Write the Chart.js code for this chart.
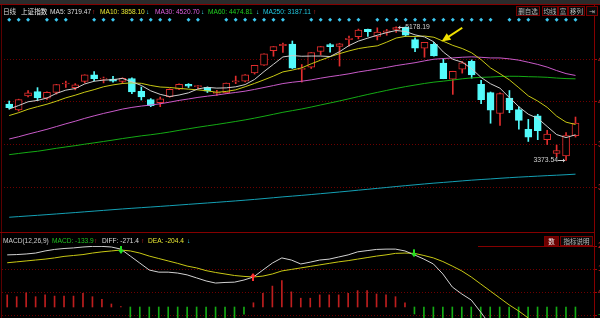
<!DOCTYPE html>
<html>
<head>
<meta charset="utf-8">
<script src="https://cdn.jsdelivr.net/npm/chart.js@4.4.1/dist/chart.umd.min.js"></script>
<style>
body { margin: 0; background: #000; }
#wrap { position: relative; width: 600px; height: 318px; overflow: hidden; background: #000; }
canvas { position: absolute; left: 0; }
.t { position: absolute; white-space: nowrap; font-family: "Liberation Sans", "Noto Sans CJK SC", sans-serif; font-size: 6.6px; line-height: 9px; }
.cjk { font-family: "Noto Sans CJK SC", sans-serif; }
.btn { position: absolute; top: 6px; height: 10px; border: 1px solid #7a0000; box-sizing: border-box; color: #bbb; font-family: "Noto Sans CJK SC", sans-serif; font-size: 6.5px; line-height: 8px; text-align: center; background: #0a0a0a; }
.line { position: absolute; background: #850000; }
</style>
</head>
<body>
<div id="wrap">
  <canvas id="main" width="600" height="232" style="top:0"></canvas>
  <canvas id="macd" width="600" height="86" style="top:232px"></canvas>

  <div class="line" style="left:0;top:0;width:600px;height:4px;background:#2b2b2b"></div>
  <div class="line" style="left:0;top:4px;width:600px;height:1px"></div>
  <div class="line" style="left:594px;top:5px;width:1px;height:313px"></div>
  <div class="line" style="left:1px;top:5px;width:1px;height:313px;background:#5a0000"></div>
  <div class="line" style="left:0;top:232px;width:595px;height:1px"></div>
  <div class="line" style="left:478px;top:246px;width:116px;height:1px"></div>

  <div class="t cjk" style="left:3px;top:6.5px;color:#ddd">日线</div>
  <div class="t cjk" style="left:21px;top:6.5px;color:#eee">上证指数</div>
  <div class="t" style="left:50px;top:6.5px;color:#ddd">MA5: 3719.47</div>
  <div class="t" style="left:92px;top:6.5px;color:#ff3030;font-weight:bold">↑</div>
  <div class="t" style="left:100px;top:6.5px;color:#e6e632">MA10: 3858.10</div>
  <div class="t" style="left:146px;top:6.5px;color:#40e0f0;font-weight:bold">↓</div>
  <div class="t" style="left:155px;top:6.5px;color:#e060e0">MA30: 4520.70</div>
  <div class="t" style="left:201px;top:6.5px;color:#40e0f0;font-weight:bold">↓</div>
  <div class="t" style="left:208px;top:6.5px;color:#20d020">MA60: 4474.81</div>
  <div class="t" style="left:256px;top:6.5px;color:#40e0f0;font-weight:bold">↓</div>
  <div class="t" style="left:263px;top:6.5px;color:#20c8e0">MA250: 3187.11</div>
  <div class="t" style="left:313px;top:6.5px;color:#ff3030;font-weight:bold">↑</div>

  <div class="btn" style="left:516px;width:24px">删自选</div>
  <div class="btn" style="left:542px;width:16px">均线</div>
  <div class="btn" style="left:558px;width:10px">富</div>
  <div class="btn" style="left:568px;width:17px">移列</div>
  <div class="btn" style="left:586px;width:12px">⇥</div>

  <div class="t" style="left:3px;top:236px;color:#ccc">MACD(12,26,9)</div>
  <div class="t" style="left:52px;top:236px;color:#20c020">MACD: -133.9</div>
  <div class="t" style="left:94px;top:236px;color:#ff3030;font-weight:bold">↑</div>
  <div class="t" style="left:102px;top:236px;color:#ddd">DIFF: -271.4</div>
  <div class="t" style="left:141px;top:236px;color:#ff3030;font-weight:bold">↑</div>
  <div class="t" style="left:148px;top:236px;color:#e6e632">DEA: -204.4</div>
  <div class="t" style="left:187px;top:236px;color:#40e0f0;font-weight:bold">↓</div>
  <div class="btn" style="left:544px;top:236px;width:15px;background:#6a0000;color:#eee">数</div>
  <div class="btn" style="left:560px;top:236px;width:33px">指标说明</div>
</div>

<script>
// daily bars, 2015-04-15 .. 2015-07-10
var dates = ['04-15','04-16','04-17','04-20','04-21','04-22','04-23','04-24','04-27','04-28',
  '04-29','04-30','05-04','05-05','05-06','05-07','05-08','05-11','05-12','05-13',
  '05-14','05-15','05-18','05-19','05-20','05-21','05-22','05-25','05-26','05-27',
  '05-28','05-29','06-01','06-02','06-03','06-04','06-05','06-08','06-09','06-10',
  '06-11','06-12','06-15','06-16','06-17','06-18','06-19','06-23','06-24','06-25',
  '06-26','06-29','06-30','07-01','07-02','07-03','07-06','07-07','07-08','07-09','07-10'];

var openP = [4135,4056,4245,4301,4212,4292,4405,4355,4441,4528,
  4470,4473,4441,4479,4306,4193,4152,4233,4335,4399,
  4370,4359,4278,4284,4432,4443,4555,4661,4854,4922,
  4943,4603,4633,4844,4937,4912,5005,5046,5145,5049,
  5101,5143,5174,5004,4890,4942,4689,4471,4604,4711,
  4399,4289,4006,4214,4058,3793,3975,3654,3467,3432,3707];
var highP = [4175,4200,4317,4356,4300,4401,4444,4410,4530,4572,
  4499,4507,4489,4489,4365,4208,4229,4340,4409,4410,
  4388,4366,4320,4418,4512,4532,4658,4814,4911,4958,
  4986,4668,4829,4911,4951,4955,5051,5147,5148,5164,
  5143,5178.19,5176,5030,4968,4967,4744,4577,4710,4730,
  4456,4297,4286,4317,4095,3927,3996,3780,3580,3748,3959];
var lowP = [4066,4040,4229,4180,4197,4268,4358,4326,4420,4445,
  4420,4430,4410,4276,4189,4099,4099,4225,4330,4357,
  4347,4290,4250,4276,4410,4432,4539,4656,4780,4832,
  4614,4431,4615,4797,4836,4647,4917,5015,5049,5001,
  5063,5103,5048,4842,4767,4780,4476,4265,4552,4483,
  4140,3875,3847,4017,3795,3629,3653,3587,3421,3373.54,3688];
var closeP = [4084.16,4194.82,4287.30,4217.08,4293.62,4398.49,4414.51,4393.69,4527.40,4476.62,
  4476.21,4441.66,4480.46,4298.71,4229.27,4112.21,4205.92,4333.58,4401.22,4375.76,
  4378.31,4308.69,4283.49,4417.55,4446.29,4529.42,4657.60,4813.80,4910.90,4941.71,
  4620.27,4611.74,4828.74,4910.53,4909.98,4947.10,5023.10,5131.88,5113.53,5106.04,
  5121.59,5166.35,5062.99,4887.43,4967.90,4785.36,4478.36,4576.49,4690.15,4527.78,
  4192.87,4053.03,4277.22,4053.70,3912.77,3686.92,3775.91,3727.12,3507.19,3709.33,3877.80];

var ma5 = [4066.66,4114.11,4164.71,4183.79,4215.40,4278.26,4322.20,4343.48,4405.54,4442.14,
  4457.69,4463.12,4480.47,4434.73,4385.26,4312.46,4265.31,4235.94,4256.44,4285.74,
  4338.96,4359.51,4349.49,4352.76,4366.87,4397.09,4466.87,4572.93,4671.60,4770.69,
  4788.86,4779.68,4782.67,4782.60,4776.25,4841.62,4923.89,4984.52,5025.12,5064.33,
  5099.23,5127.88,5114.10,5068.88,5041.25,4974.01,4836.41,4739.11,4699.65,4611.63,
  4493.13,4408.06,4348.21,4220.92,4097.92,3996.73,3941.30,3831.28,3721.98,3681.29,3719.47];
var ma10 = [3978.95,4017.40,4063.55,4098.87,4132.09,4172.46,4218.16,4254.10,4294.66,4328.77,
  4367.97,4392.66,4411.97,4420.14,4413.70,4385.07,4364.22,4358.20,4345.59,4335.50,
  4325.71,4312.41,4292.72,4304.60,4326.30,4368.02,4413.19,4461.21,4512.18,4568.78,
  4592.97,4623.28,4677.80,4727.10,4773.47,4815.24,4851.79,4883.60,4903.86,4920.29,
  4970.42,5025.88,5049.31,5047.00,5052.79,5036.62,4982.14,4926.60,4884.27,4826.44,
  4733.57,4622.24,4543.66,4460.29,4354.77,4244.93,4174.68,4089.75,3971.45,3889.61,3858.10];
var ma30 = [3662.26,3692.77,3727.40,3759.93,3792.97,3830.05,3867.50,3902.32,3940.80,3975.04,
  4007.49,4036.30,4066.24,4088.95,4107.01,4121.02,4138.17,4159.89,4183.56,4203.20,
  4224.21,4240.82,4256.08,4274.53,4290.70,4308.52,4331.85,4357.84,4384.14,4411.02,
  4428.89,4442.78,4460.83,4483.95,4504.49,4522.78,4543.06,4567.67,4587.21,4608.19,
  4629.70,4653.86,4673.28,4692.90,4717.52,4739.96,4749.04,4757.14,4766.77,4771.84,
  4765.65,4757.13,4756.92,4744.80,4727.01,4698.93,4669.54,4633.32,4586.53,4545.45,4520.70];
var ma60 = [3450.50,3466.71,3482.56,3496.57,3516.19,3536.61,3554.79,3572.30,3591.89,3610.11,
  3628.83,3647.76,3668.06,3686.20,3704.55,3719.67,3736.87,3756.82,3778.91,3800.25,
  3820.86,3840.04,3858.54,3878.77,3899.06,3920.44,3944.25,3969.51,3996.19,4022.95,
  4045.57,4067.78,4094.12,4121.94,4148.73,4176.41,4205.28,4234.99,4264.00,4291.62,
  4318.60,4345.08,4369.76,4390.93,4412.26,4430.49,4443.61,4458.51,4475.16,4487.52,
  4494.93,4498.98,4506.50,4509.66,4508.85,4503.72,4500.70,4495.58,4485.33,4478.23,4474.81];
var ma250 = [2605.2,2613.8,2622.7,2631.4,2640.4,2649.8,2659.2,2668.6,2678.5,2688.2,
  2697.9,2707.5,2717.2,2726.2,2734.9,2743.2,2751.8,2760.9,2770.3,2779.6,
  2788.9,2798.0,2806.9,2816.4,2825.9,2835.9,2846.3,2857.4,2868.8,2880.4,
  2890.6,2900.9,2912.0,2923.4,2934.9,2946.5,2958.4,2970.7,2982.9,2995.2,
  3007.5,3019.9,3032.0,3043.3,3055.0,3065.9,3075.6,3085.8,3096.3,3106.2,
  3114.8,3122.8,3131.7,3139.7,3147.2,3153.7,3160.6,3167.3,3173.2,3179.8,3187.11];

var diffV = [172,173,175,178,185,190,193,195,198,200,
  200,198,191,168,145,122,115,115,112,106,
  96,86,79,81,82,89,99,122,145,162,
  155,142,148,155,158,165,172,182,186,190,
  191,191,185,172,158,142,109,66,43,23,
  -17,-59,-85,-125,-165,-215,-245,-265,-290,-285,-271.4];
var deaV = [146,149,152,155,158,162,167,170,173,178,
  182,185,188,185,178,168,160,152,144,135,
  129,120,114,109,104,101,99,102,109,119,
  124,129,134,139,144,149,153,158,163,168,
  172,177,178,177,170,162,150,135,119,99,
  76,53,30,7,-13,-36,-80,-118,-155,-183,-204.4];
var macdV = [40,34,47,34,40,36,36,36,45,34,
  25,10,1,-34,-66,-92,-90,-74,-64,-58,
  -66,-68,-70,-56,-44,-24,14,45,69,87,
  50,29,29,40,40,40,45,54,54,43,
  40,34,14,-23,-40,-60,-82,-138,-152,-152,
  -186,-224,-230,-264,-304,-358,-330,-294,-270,-204,-133.9];

// bars carrying an info-mine diamond
var infoIdx = [0,1,2,4,5,6,9,10,11,13,14,15,16,17,19,20,23,24,25,26,27,28,29,
  32,33,34,35,36,37,39,40,41,42,43,44,45,46,47,48,49,50,51,53,54,55,57,58,59,60];
var goldCross = [26];
var deadCross = [12, 43];

var priceTicks = [4740.6, 4170.4, 3587.0, 3003.5];
var macdTicks = [201.3, 125.4, 49.5, -26.4];

var RED = 'rgb(225,45,45)', CYAN = 'rgb(84,252,252)';
var X_MIN = -0.55, X_MAX = 61.96;

function pts(arr) { return arr.map(function (v, i) { return { x: i, y: v }; }); }
function isUp(i) { return closeP[i] >= openP[i]; }

function maLine(label, arr, color) {
  return { type: 'line', label: label, data: pts(arr), borderColor: color, borderWidth: 1,
    pointRadius: 0, tension: 0, order: 1 };
}

var annotate = {
  id: 'annotate',
  afterDatasetsDraw: function (chart) {
    var ctx = chart.ctx, x = chart.scales.x, y = chart.scales.y;
    ctx.save();
    ctx.font = '6.8px "Liberation Sans", Arial';
    ctx.fillStyle = '#d0d0d0';
    ctx.strokeStyle = '#d0d0d0';
    ctx.lineWidth = 1;
    ctx.textBaseline = 'middle';
    // highest high
    var hi = highP.indexOf(Math.max.apply(null, highP));
    var hx = x.getPixelForValue(hi), hy = Math.round(y.getPixelForValue(highP[hi])) + 0.5;
    ctx.beginPath(); ctx.moveTo(hx + 2, hy); ctx.lineTo(hx + 8, hy); ctx.stroke();
    ctx.beginPath(); ctx.moveTo(hx + 2, hy); ctx.lineTo(hx + 4, hy - 2); ctx.lineTo(hx + 4, hy + 2); ctx.fill();
    ctx.fillText(highP[hi].toFixed(2), hx + 9, hy);
    // lowest low
    var lo = lowP.indexOf(Math.min.apply(null, lowP));
    var lx = x.getPixelForValue(lo), ly = Math.round(y.getPixelForValue(lowP[lo])) + 0.5;
    ctx.beginPath(); ctx.moveTo(lx - 8, ly); ctx.lineTo(lx - 1, ly); ctx.stroke();
    ctx.beginPath(); ctx.moveTo(lx - 1, ly); ctx.lineTo(lx - 3, ly - 2); ctx.lineTo(lx - 3, ly + 2); ctx.fill();
    ctx.textAlign = 'right';
    ctx.fillText(lowP[lo].toFixed(2), lx - 8, ly);
    // yellow pointer arrow
    var tx = x.getPixelForValue(48.0), ty = y.getPixelForValue(5165);
    var ax = x.getPixelForValue(45.8), ay = y.getPixelForValue(4979);
    var ang = Math.atan2(ay - ty, ax - tx);
    ctx.strokeStyle = '#f0e000'; ctx.fillStyle = '#f0e000'; ctx.lineWidth = 2;
    ctx.beginPath(); ctx.moveTo(tx, ty); ctx.lineTo(ax - 6 * Math.cos(ang), ay - 6 * Math.sin(ang)); ctx.stroke();
    ctx.beginPath();
    ctx.moveTo(ax, ay);
    ctx.lineTo(ax - 9 * Math.cos(ang) + 4 * Math.sin(ang), ay - 9 * Math.sin(ang) - 4 * Math.cos(ang));
    ctx.lineTo(ax - 9 * Math.cos(ang) - 4 * Math.sin(ang), ay - 9 * Math.sin(ang) + 4 * Math.cos(ang));
    ctx.closePath(); ctx.fill();
    ctx.restore();
  }
};

var crossMarks = {
  id: 'crossMarks',
  afterDatasetsDraw: function (chart) {
    var ctx = chart.ctx, x = chart.scales.x, y = chart.scales.y;
    ctx.save();
    function arrow(i, up, color) {
      var px = Math.round(x.getPixelForValue(i)), py = y.getPixelForValue(deaV[i]);
      var d = up ? -1 : 1;
      ctx.fillStyle = color;
      ctx.fillRect(px - 1, Math.min(py - 4 * d, py), 2, 4);
      ctx.beginPath();
      ctx.moveTo(px - 3, py); ctx.lineTo(px + 3, py); ctx.lineTo(px, py + 4 * d);
      ctx.closePath(); ctx.fill();
    }
    goldCross.forEach(function (i) { arrow(i, true, '#ff3030'); });
    deadCross.forEach(function (i) { arrow(i, false, '#20e020'); });
    ctx.restore();
  }
};

function yAxis(min, max, ticks, fmt, colorFn) {
  return {
    position: 'right', min: min, max: max,
    afterFit: function (s) { s.width = 6; s.paddingTop = 0; s.paddingBottom = 0; },
    afterBuildTicks: function (s) { s.ticks = ticks.map(function (v) { return { value: v }; }); },
    grid: { color: 'rgb(110,0,0)', lineWidth: 1, drawTicks: true, tickLength: 3, tickColor: 'rgb(170,0,0)' },
    border: { display: false, dash: [1, 2] },
    ticks: { color: colorFn, font: { size: 9 }, padding: 1, callback: fmt }
  };
}

new Chart(document.getElementById('main'), {
  type: 'bar',
  data: {
    datasets: [
      { type: 'bar', label: 'wick', data: dates.map(function (d, i) { return { x: i, y: [lowP[i], highP[i]] }; }),
        backgroundColor: dates.map(function (d, i) { return isUp(i) ? RED : CYAN; }),
        barThickness: 1, grouped: false, order: 10 },
      { type: 'bar', label: 'body', data: dates.map(function (d, i) { return { x: i, y: [openP[i], closeP[i]] }; }),
        backgroundColor: dates.map(function (d, i) { return isUp(i) ? '#000' : CYAN; }),
        borderColor: dates.map(function (d, i) { return isUp(i) ? RED : CYAN; }),
        borderWidth: 1, borderSkipped: false, barThickness: 7, minBarLength: 1, grouped: false, order: 5 },
      maLine('MA5', ma5, 'rgb(205,205,205)'),
      maLine('MA10', ma10, 'rgb(200,200,20)'),
      maLine('MA30', ma30, 'rgb(200,90,200)'),
      maLine('MA60', ma60, 'rgb(20,170,20)'),
      maLine('MA250', ma250, 'rgb(20,160,180)'),
      { type: 'scatter', label: 'info', data: infoIdx.map(function (i) { return { x: i, y: 5272 }; }),
        pointStyle: 'rectRot', pointRadius: 2, backgroundColor: 'rgb(60,200,240)', borderWidth: 0, clip: false, order: 0 }
    ]
  },
  options: {
    responsive: false, animation: false, devicePixelRatio: 1,
    layout: { padding: { left: 2, top: 14, right: 0, bottom: 0 } },
    plugins: { legend: { display: false }, tooltip: { enabled: false } },
    scales: {
      x: { type: 'linear', min: X_MIN, max: X_MAX, display: false, offset: false },
      y: yAxis(2459.9, 5350.6, priceTicks, function (v) { return v.toFixed(0); }, 'rgb(210,40,40)')
    }
  },
  plugins: [annotate]
});

new Chart(document.getElementById('macd'), {
  type: 'bar',
  data: {
    datasets: [
      { type: 'bar', label: 'MACD', data: pts(macdV),
        backgroundColor: macdV.map(function (v) { return v >= 0 ? 'rgb(190,30,30)' : 'rgb(20,170,20)'; }),
        barThickness: 1, grouped: false, order: 5 },
      { type: 'line', label: 'DIFF', data: pts(diffV), borderColor: 'rgb(210,210,210)', borderWidth: 1, pointRadius: 0, order: 1 },
      { type: 'line', label: 'DEA', data: pts(deaV), borderColor: 'rgb(200,200,20)', borderWidth: 1, pointRadius: 0, order: 2 }
    ]
  },
  options: {
    responsive: false, animation: false, devicePixelRatio: 1,
    layout: { padding: { left: 2, top: 14, right: 0, bottom: 0 } },
    plugins: { legend: { display: false }, tooltip: { enabled: false } },
    scales: {
      x: { type: 'linear', min: X_MIN, max: X_MAX, display: false, offset: false },
      y: (function () {
        var a = yAxis(-36.3, 201.3, macdTicks, function (v) { return v.toFixed(1); },
          function (c) { return c.tick && c.tick.value < 0 ? 'rgb(20,170,20)' : 'rgb(210,40,40)'; });
        a.grid.color = function (c) { return c.index === 0 ? 'rgba(0,0,0,0)' : 'rgb(110,0,0)'; };
        return a;
      })()
    }
  },
  plugins: [crossMarks]
});
</script>
</body>
</html>
